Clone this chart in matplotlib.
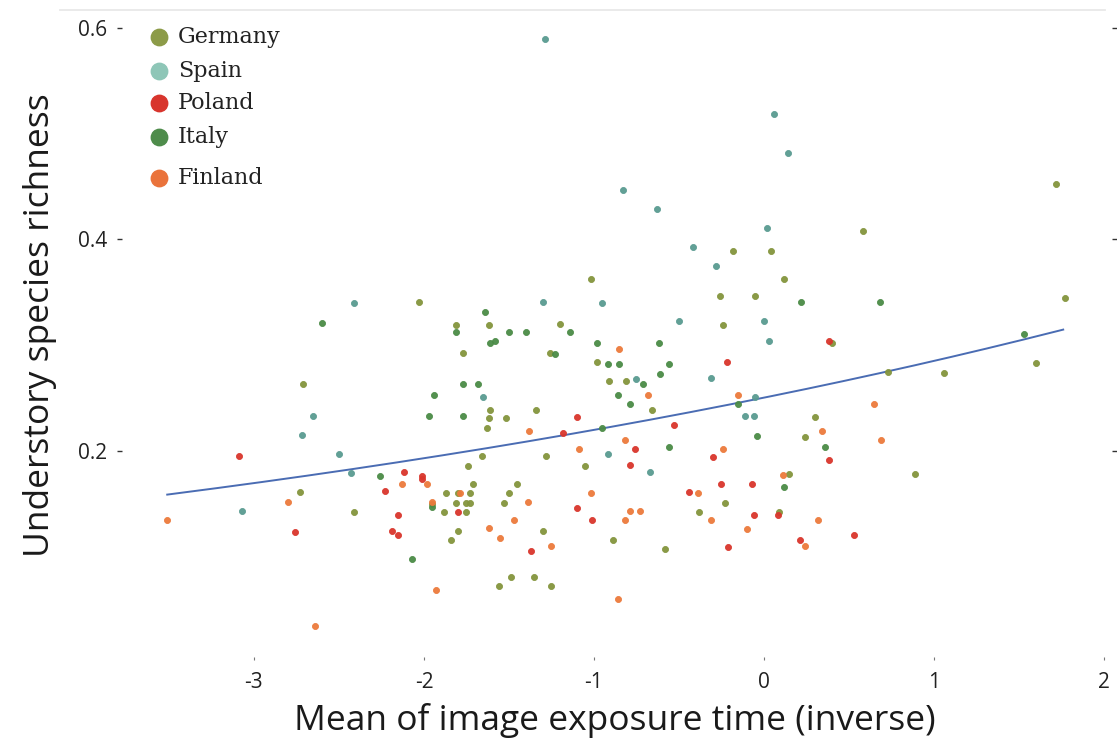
import numpy as np
import matplotlib
matplotlib.use("Agg")
import matplotlib.pyplot as plt

# ---- data: mean of image exposure time (inverse) vs understory species richness
germany_x = [-2.03, -2.71, -2.73, -2.41, -1.02, -1.81, -1.62, -1.20, -1.77, -1.26,
             -0.98, -0.91, -0.81, -1.61, -1.34, -0.66, -1.62, -1.52, -1.63, -1.66,
             -1.28, -1.05, -1.74, -1.71, -1.45, -1.50, -1.87, -1.80, -1.73, -1.81,
             -1.75, -1.73, -1.53, -1.88, -1.75, -1.80, -1.84, -1.30, -0.89, -0.58,
             -1.49, -1.35, -1.56, -1.25, 0.58, -0.18, 0.04, 0.12, -0.26, -0.05,
             -0.24, 0.40, 0.73, 0.30, 0.24, 0.15, -0.23, -0.38, 0.09, 1.72,
             1.77, 1.60, 1.06, 0.89, -1.95]
germany_y = [0.341, 0.263, 0.161, 0.142, 0.363, 0.319, 0.319, 0.320, 0.293, 0.293,
             0.284, 0.266, 0.266, 0.239, 0.239, 0.239, 0.231, 0.231, 0.222, 0.195,
             0.195, 0.186, 0.186, 0.169, 0.169, 0.160, 0.160, 0.160, 0.160, 0.151,
             0.151, 0.151, 0.151, 0.142, 0.142, 0.124, 0.116, 0.124, 0.116, 0.107,
             0.081, 0.081, 0.072, 0.072, 0.408, 0.389, 0.389, 0.363, 0.346, 0.346,
             0.319, 0.302, 0.275, 0.232, 0.213, 0.178, 0.151, 0.142, 0.142, 0.452,
             0.345, 0.283, 0.274, 0.178, 0.150]

spain_x = [-2.41, -2.65, -2.72, -2.50, -2.43, -3.07, -1.30, -0.95, -1.65, -0.75,
           -0.92, -0.67, -0.63, 0.02, -0.42, -0.28, -0.50, 0.00, 0.03, -0.31,
           -0.05, -0.11, -0.06, -1.29, 0.06, 0.14, -0.83]
spain_y = [0.340, 0.233, 0.215, 0.197, 0.179, 0.143, 0.341, 0.340, 0.251, 0.268,
           0.197, 0.180, 0.429, 0.411, 0.393, 0.375, 0.323, 0.323, 0.304, 0.269,
           0.251, 0.233, 0.233, 0.590, 0.519, 0.482, 0.447]

poland_x = [-3.09, -2.12, -2.01, -2.01, -2.23, -2.15, -2.76, -2.19, -2.15, -1.10,
            -1.18, -0.76, -0.79, -1.10, -1.80, -1.01, -1.37, 0.38, -0.22, -0.53,
            -0.30, 0.38, -0.25, -0.07, -0.44, 0.08, -0.06, 0.21, 0.53, -0.21]
poland_y = [0.195, 0.180, 0.176, 0.173, 0.162, 0.139, 0.123, 0.124, 0.120, 0.232,
            0.217, 0.202, 0.187, 0.146, 0.142, 0.135, 0.105, 0.304, 0.284, 0.224,
            0.194, 0.191, 0.169, 0.169, 0.161, 0.139, 0.139, 0.116, 0.120, 0.109]

italy_x = [-2.60, -1.94, -1.97, -2.26, -1.95, -2.07, -1.64, -1.81, -1.50, -1.40,
           -1.61, -1.58, -1.14, -1.23, -0.98, -0.62, -0.92, -0.85, -0.56, -1.77,
           -1.68, -0.71, -0.61, -0.86, -0.79, -1.77, -0.95, -0.56, 0.22, 0.68,
           -0.15, -0.04, 0.36, 0.12, 1.53]
italy_y = [0.321, 0.253, 0.233, 0.176, 0.147, 0.098, 0.331, 0.312, 0.312, 0.312,
           0.302, 0.304, 0.312, 0.292, 0.302, 0.302, 0.282, 0.282, 0.282, 0.263,
           0.263, 0.263, 0.273, 0.253, 0.244, 0.233, 0.222, 0.204, 0.341, 0.341,
           0.244, 0.214, 0.204, 0.166, 0.311]

finland_x = [-1.98, -2.13, -2.80, -1.95, -3.51, -1.93, -2.64, -0.85, -0.68, -1.38,
             -0.82, -1.09, -1.02, -1.79, -1.39, -0.79, -0.73, -1.47, -0.82, -1.62,
             -1.55, -1.25, -0.86, -0.15, 0.65, 0.34, 0.69, -0.24, 0.11, -0.39,
             -0.31, 0.32, -0.10, 0.24]
finland_y = [0.169, 0.169, 0.152, 0.152, 0.135, 0.068, 0.034, 0.296, 0.253, 0.219,
             0.210, 0.202, 0.160, 0.160, 0.152, 0.143, 0.143, 0.135, 0.135, 0.127,
             0.118, 0.110, 0.060, 0.253, 0.244, 0.219, 0.210, 0.202, 0.177, 0.160,
             0.135, 0.135, 0.126, 0.110]

countries = ["Germany", "Spain", "Poland", "Italy", "Finland"]
point_colors = ["#84953d", "#5a9b91", "#d9362c", "#4b8b46", "#ec7a3c"]
legend_colors = ["#8c9b48", "#8ec6b7", "#d8352d", "#4e8c4b", "#ea733b"]

# fitted trend (log link): richness = exp(b0 + b1 * exposure)
fit_b0 = -1.385
fit_b1 = 0.130
fit_range = (-3.51, 1.76)

series = [(germany_x, germany_y), (spain_x, spain_y), (poland_x, poland_y),
          (italy_x, italy_y), (finland_x, finland_y)]

W, H = 1117, 744
fig = plt.figure(figsize=(W / 100, H / 100), dpi=100)
ax = fig.add_axes([122 / W, 1 - 657 / H, 990 / W, 647 / H])

for (xs, ys), col in zip(series, point_colors):
    ax.scatter(xs, ys, s=19, color=col, edgecolors=col, linewidths=0.6,
               alpha=0.95, zorder=3)

xf = np.linspace(fit_range[0], fit_range[1], 200)
ax.plot(xf, np.exp(fit_b0 + fit_b1 * xf), color="#4a6cb3", lw=1.4, zorder=2)

ax.set_xlim(-3.776, 2.047)
ax.set_ylim(0.005, 0.617)

for side in ["left", "right", "bottom", "top"]:
    ax.spines[side].set_visible(False)
# faint frame line along the top edge
fig.add_artist(plt.Line2D([60 / W, 1105 / W], [1 - 10 / H, 1 - 10 / H],
                          transform=fig.transFigure, color="#e8e8e8", lw=1.3))

ax.set_xticks([-3, -2, -1, 0, 1, 2])
ax.set_xticklabels(["-3", "-2", "-1", "0", "1", "2"])
ax.set_yticks([0.2, 0.4, 0.6])
ax.set_yticklabels(["0.2", "0.4", "0.6"])

tick_font = "Open Sans"
ax.tick_params(axis="x", direction="out", length=2.5, width=0.8, color="#777777",
               pad=8, labelsize=15, labelcolor="#222222")
ax.tick_params(axis="y", direction="out", length=3.5, width=1.0, color="#333333",
               pad=7, labelsize=15, labelcolor="#222222", right=True)
for lab in ax.get_xticklabels() + ax.get_yticklabels():
    lab.set_fontfamily(tick_font)

fig.text(615 / W, 1 - 720 / H, "Mean of image exposure time (inverse)",
         ha="center", va="center", fontsize=25.5, family="Open Sans", color="#1a1a1a")
fig.text(40 / W, 1 - 325 / H, "Understory species richness", rotation=90,
         ha="center", va="center", fontsize=25.5, family="Open Sans", color="#1a1a1a")

# legend drawn row by row
legend_rows_y = [37, 71, 103, 137, 178]
for name, col, py in zip(countries, legend_colors, legend_rows_y):
    ax.scatter([159], [H - py], s=140, color=col, transform=None, zorder=5,
               clip_on=False)
    fig.text(178 / W, 1 - py / H, name, ha="left", va="center", fontsize=16,
             family="DejaVu Serif", color="#222222")

fig.savefig("out.png", dpi=100, facecolor="white")
